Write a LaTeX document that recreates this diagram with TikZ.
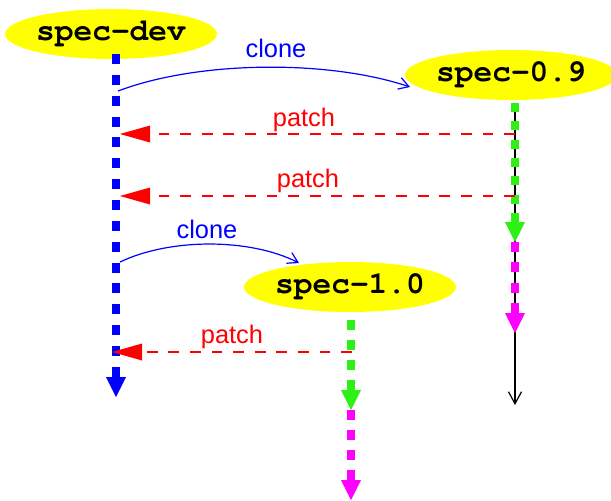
\documentclass[tikz,border=0pt]{standalone}
\usepackage{fontspec}
\setmainfont{Liberation Sans}
\newfontfamily\branchfont{texgyrecursor}[Extension=.otf, UprightFont=*-regular, BoldFont=*-bold]
\usetikzlibrary{positioning, arrows.meta, shapes.geometric}

\definecolor{devblue}{RGB}{0,0,255}
\definecolor{relgreen}{RGB}{45,240,20}
\definecolor{relmagenta}{RGB}{255,0,255}
\definecolor{patchred}{RGB}{255,0,0}
\definecolor{branchyellow}{RGB}{255,255,0}

\begin{document}
\begin{tikzpicture}[
	x=0.5pt,
	y=-0.5pt,
	every branch/.style={ellipse, fill=branchyellow, inner sep=0pt, minimum width=104pt, minimum height=25pt, font=\fontsize{15.6}{18}\selectfont\branchfont\bfseries},
	trunk/.style={line width=4.2pt},
	twig/.style={line width=4pt},
	fat tip/.style={-{Triangle[length=10pt, width=10pt, line width=0pt]}},
	patch/.style={patchred, line width=1.3pt, dash pattern=on 5.4pt off 5.4pt, -{Triangle[length=15pt, width=8.5pt, line width=0pt]}},
	clone/.style={devblue, line width=0.6pt, -{Straight Barb[length=5pt, width=6pt]}},
	every label text/.style={anchor=base, font=\fontsize{12.7}{15}\selectfont}
]

\useasboundingbox (0,0) rectangle (611,500);

% branches
\node [every branch] (spec-dev) at (111,34) {spec-dev};
\node [every branch] (spec-09) at (511,75) {spec-0.9};
\node [every branch] (spec-10) at (350,287) {spec-1.0};

% points on the lines
\coordinate (dev-top) at (116,54);
\coordinate (dev-end) at (116,397);
\coordinate (09-top) at (515,103);
\coordinate (09-mid) at (515,242);
\coordinate (09-low) at (515,333);
\coordinate (09-end) at (515,405);
\coordinate (10-top) at (351,320);
\coordinate (10-mid) at (351,410);
\coordinate (10-low) at (351,500);

\coordinate (dev-c1) at (118,91);
\coordinate (09-in) at (410,87);
\coordinate (dev-c2) at (120,262);
\coordinate (10-in) at (299,263);

\coordinate (09-p1) at (515,134);
\coordinate (dev-p1) at (120,134);
\coordinate (09-p2) at (515,196);
\coordinate (dev-p2) at (120,196);
\coordinate (10-p3) at (352,352);
\coordinate (dev-p3) at (112,352);

% lines
\draw [trunk, devblue, dash pattern=on 5pt off 5.43pt, fat tip] (dev-top) -- (dev-end);

\draw [line width=0.6pt, -{Straight Barb[length=6pt, width=6.5pt]}] (09-top) -- (09-end);
\draw [twig, relgreen, dash pattern=on 4.5pt off 4.67pt, fat tip] (09-top) -- (09-mid);
\draw [twig, relmagenta, dash pattern=on 5pt off 5.17pt, fat tip] (09-mid) -- (09-low);

\draw [trunk, relgreen, dash pattern=on 5pt off 5pt, fat tip] (10-top) -- (10-mid);
\draw [trunk, relmagenta, dash pattern=on 5pt off 5pt, fat tip] (10-mid) -- (10-low);

% clones
\draw [clone] (dev-c1) .. controls (200,60) and (330,60) .. (09-in);
\draw [clone] (dev-c2) .. controls (170,238) and (250,238) .. (10-in);

\node [every label text, devblue] (clone-1-text) at (276,57) {clone};
\node [every label text, devblue] (clone-2-text) at (207,238) {clone};

% patches
\foreach \from/\to in {09-p1/dev-p1, 09-p2/dev-p2, 10-p3/dev-p3}
	\draw [patch] (\from) -- (\to);

\foreach \x/\y [count=\i] in {304/126, 308/187, 232/343}
	\node [every label text, patchred] (patch-\i-text) at (\x,\y) {patch};

\end{tikzpicture}
\end{document}
